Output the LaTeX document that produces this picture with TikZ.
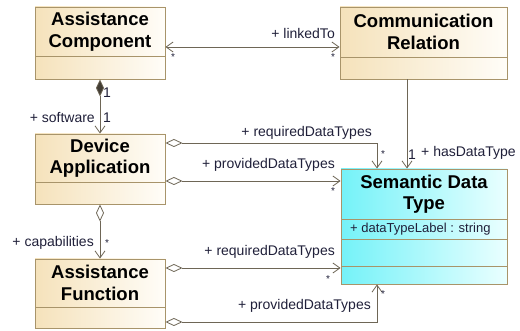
\documentclass[tikz,border=0pt]{standalone}
\usepackage{fontspec}
\setmainfont{Liberation Sans}
\usetikzlibrary{arrows.meta}
\definecolor{bord}{HTML}{A8946A}
\definecolor{beigeL}{HTML}{F5E2BB}
\definecolor{beigeR}{HTML}{FFFDF8}
\definecolor{cyanL}{HTML}{74F2F8}
\definecolor{cyanR}{HTML}{EAFFFF}
\definecolor{ln}{HTML}{6E6656}
\definecolor{lbl}{HTML}{20203A}
\begin{document}
\begin{tikzpicture}[x=1pt,y=-1pt,
  cls/.style={draw=bord, line width=0.9pt, left color=beigeL, right color=beigeR, inner sep=0pt},
  sdtcls/.style={draw=bord, line width=0.9pt, left color=cyanL, right color=cyanR, inner sep=0pt},
  divider/.style={draw=bord, line width=0.9pt},
  title/.style={font=\bfseries\fontsize{18.5}{21.5}\selectfont, align=center, text=black, inner sep=0pt},
  lab/.style={font=\fontsize{14}{16}\selectfont, text=lbl, inner sep=0pt},
  attr/.style={font=\fontsize{13}{15}\selectfont, text=lbl, inner sep=0pt},
  star/.style={font=\fontsize{10}{10}\selectfont, text=lbl, inner sep=0pt},
  conn/.style={draw=ln, line width=0.8pt},
  vtip/.tip={Straight Barb[length=7pt, width=10pt]},
  odia/.tip={Diamond[length=17pt, width=8pt, fill=white]},
  fdia/.tip={Diamond[length=17pt, width=8pt, fill=ln!60!black]}
]
\fill[white] (0,0) rectangle (520,331);
\useasboundingbox (0,0) rectangle (520,331);

% classes
\node[cls, minimum width=130pt, minimum height=72pt] (ac) at (100,43) {};
\node[cls, minimum width=167pt, minimum height=72pt] (cr) at (423.5,43) {};
\node[cls, minimum width=130pt, minimum height=70pt] (da) at (100,169) {};
\node[cls, minimum width=130pt, minimum height=69pt] (af) at (100,293.5) {};
\node[sdtcls, minimum width=166pt, minimum height=115pt] (sdt) at (424,226.5) {};

% dividers
\draw[divider] (35,56) -- (165,56);
\draw[divider] (340,57) -- (507,57);
\draw[divider] (35,182) -- (165,182);
\draw[divider] (35,307) -- (165,307);
\draw[divider] (341,219) -- (507,219);
\draw[divider] (341,239) -- (507,239);
\draw[divider] (341,266) -- (507,266);

% titles
\node[title] (tac) at (100,31.5) {Assistance\\Component};
\node[title] (tcr) at (423.5,32) {Communication\\Relation};
\node[title] (tda) at (100,158) {Device\\Application};
\node[title] (taf) at (100,283) {Assistance\\Function};
\node[title] (tsdt) at (424,194) {Semantic Data\\Type};
\node[attr, anchor=west] (attr1) at (350,229) {+ dataTypeLabel : string};

% connectors
\draw[conn, vtip-vtip] ([yshift=-4pt]ac.east) -- ([yshift=-4pt]cr.west);
\draw[conn, fdia-vtip] (ac.south) -- (da.north);
\draw[conn, odia-vtip] (da.south) -- (af.north);
\draw[conn, odia-vtip] ([yshift=26pt]da.east) -| ([xshift=-47pt]sdt.north);
\draw[conn, odia-vtip] ([yshift=-12pt]da.east) -- ([yshift=45.5pt]sdt.west);
\draw[conn, -vtip] ([xshift=-16.5pt]cr.south) -- ([xshift=-17pt]sdt.north);
\draw[conn, odia-vtip] ([yshift=25.5pt]af.east) -- ([yshift=-41.5pt]sdt.west);
\draw[conn, odia-vtip] ([yshift=-28.5pt]af.east) -| ([xshift=-47pt]sdt.south);

% labels
\node[lab, anchor=east] (l1) at (335,33) {+ linkedTo};
\node[star] (s1) at (173,57) {*};
\node[star] (s2) at (333,57) {*};
\node[lab] (m1) at (107,93) {1};
\node[lab] (m2) at (107,118) {1};
\node[lab, anchor=east] (l2) at (95,118) {+ software};
\node[lab, anchor=east] (l3) at (372,133) {+ requiredDataTypes};
\node[star] (s3) at (383,154) {*};
\node[lab, anchor=east] (l4) at (335,165) {+ providedDataTypes};
\node[star] (s4) at (333,191) {*};
\node[lab] (m3) at (412,155) {1};
\node[lab, anchor=west] (l5) at (421,153) {+ hasDataType};
\node[lab, anchor=east] (l6) at (94,243) {+ capabilities};
\node[star] (s5) at (107,243) {*};
\node[lab, anchor=east] (l7) at (335,252) {+ requiredDataTypes};
\node[star] (s6) at (328,279) {*};
\node[lab, anchor=east] (l8) at (371,306) {+ providedDataTypes};
\node[star] (s7) at (383,294) {*};
\end{tikzpicture}
\end{document}
